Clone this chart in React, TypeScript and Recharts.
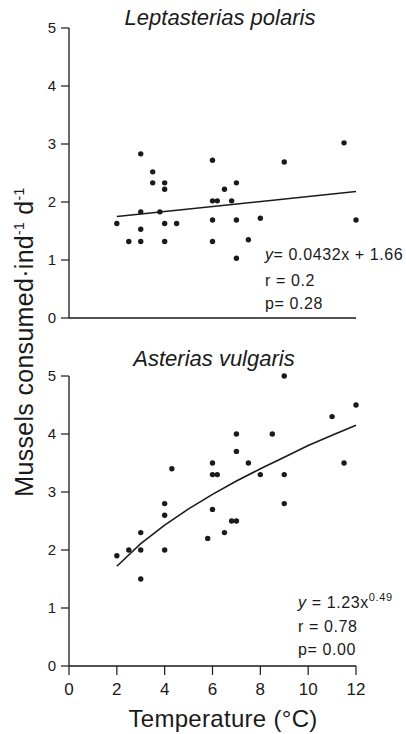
import React from 'react';
import { ScatterChart, Scatter, XAxis, YAxis } from 'recharts';

// Leptasterias polaris (top panel)
const polarisTemp = [2, 2.5, 3, 3, 3, 3, 3.5, 3.5, 3.8, 4, 4, 4, 4, 4.5, 6, 6, 6.2, 6, 6, 6.5, 6.8, 7, 7, 7, 7.5, 8, 9, 11.5, 12];
const polarisRate = [1.63, 1.32, 2.83, 1.83, 1.53, 1.32, 2.52, 2.33, 1.83, 2.33, 2.22, 1.63, 1.32, 1.63, 2.72, 2.02, 2.02, 1.69, 1.32, 2.22, 2.02, 2.33, 1.69, 1.03, 1.35, 1.72, 2.69, 3.02, 1.69];
const polarisFitTemp = [2, 12];
const polarisFitRate = [1.75, 2.18];

// Asterias vulgaris (bottom panel)
const vulgarisTemp = [2, 2.5, 3, 3, 3, 4, 4, 4, 4.3, 5.8, 6, 6, 6.2, 6, 6.5, 6.8, 7, 7, 7, 7.5, 8, 8.5, 9, 9, 9, 11, 11.5, 12];
const vulgarisRate = [1.9, 2.0, 2.0, 2.3, 1.5, 2.0, 2.6, 2.8, 3.4, 2.2, 2.7, 3.3, 3.3, 3.5, 2.3, 2.5, 2.5, 3.7, 4.0, 3.5, 3.3, 4.0, 3.3, 2.8, 5.0, 4.3, 3.5, 4.5];
const vulgarisFitTemp = [2, 3, 4, 5, 6, 7, 8, 9, 10, 11, 12];
const vulgarisFitRate = [1.72, 2.11, 2.43, 2.71, 2.96, 3.19, 3.40, 3.60, 3.80, 3.98, 4.15];

const xTicks = [0, 2, 4, 6, 8, 10, 12];
const yTicks = [0, 1, 2, 3, 4, 5];

const zip = (xs: number[], ys: number[]) => xs.map((x, i) => ({ x, y: ys[i] }));

const polarisPts = zip(polarisTemp, polarisRate);
const polarisFit = zip(polarisFitTemp, polarisFitRate);
const vulgarisPts = zip(vulgarisTemp, vulgarisRate);
const vulgarisFit = zip(vulgarisFitTemp, vulgarisFitRate);

const FONT = '"Liberation Sans", Arial, Helvetica, sans-serif';
const INK = '#1a1a1a';

const Dot = (props: any) => <circle cx={props.cx} cy={props.cy} r={2.7} fill={INK} />;
const NoDot = () => <g />;

const yTickStyle = { fill: INK, fontSize: 15, fontFamily: FONT };
const xTickStyle = { fill: INK, fontSize: 17, fontFamily: FONT };

function Panel({ pts, fit, showXLabels, height, bottom, xHeight }: any) {
  return (
    <ScatterChart width={406} height={height} margin={{ top: 28, right: 50, bottom, left: 39 }}>
      <XAxis
        type="number"
        dataKey="x"
        domain={[0, 12]}
        ticks={xTicks}
        interval={0}
        height={xHeight}
        tickSize={9}
        tickMargin={showXLabels ? 8 : 0}
        tick={showXLabels ? xTickStyle : false}
        axisLine={{ stroke: INK, strokeWidth: 1.3 }}
        tickLine={{ stroke: INK, strokeWidth: 1.2 }}
      />
      <YAxis
        type="number"
        dataKey="y"
        domain={[0, 5]}
        ticks={yTicks}
        interval={0}
        width={30}
        tickSize={8}
        tickMargin={5}
        tick={yTickStyle}
        axisLine={{ stroke: INK, strokeWidth: 1.3 }}
        tickLine={{ stroke: INK, strokeWidth: 1.2 }}
      />
      <Scatter data={pts} shape={Dot} isAnimationActive={false} />
      <Scatter data={fit} shape={NoDot} line={{ stroke: INK, strokeWidth: 1.6 }} isAnimationActive={false} />
    </ScatterChart>
  );
}

const abs = (left: number, top: number, extra: any = {}) => ({
  position: 'absolute' as const,
  left,
  top,
  whiteSpace: 'nowrap' as const,
  color: INK,
  fontFamily: FONT,
  lineHeight: 1,
  ...extra,
});

const supStyle = (fs: number, lift: number) => ({
  fontSize: fs,
  position: 'relative' as const,
  top: -lift,
  lineHeight: 1,
});

export default function App() {
  return (
    <div style={{ position: 'absolute', left: 0, top: 0, width: 406, height: 734, background: '#fff', fontFamily: FONT }}>
      <div style={{ position: 'absolute', left: 0, top: 0 }}>
        <Panel pts={polarisPts} fit={polarisFit} showXLabels={false} height={340} bottom={12} xHeight={10} />
      </div>
      <div style={{ position: 'absolute', left: 0, top: 348 }}>
        <Panel pts={vulgarisPts} fit={vulgarisFit} showXLabels={true} height={386} bottom={8} xHeight={60} />
      </div>

      {/* titles */}
      <div style={abs(220, 7, { fontSize: 22, fontStyle: 'italic', transform: 'translateX(-50%)' })}>Leptasterias polaris</div>
      <div style={abs(214, 348, { fontSize: 22, fontStyle: 'italic', transform: 'translateX(-50%)' })}>Asterias vulgaris</div>

      {/* y-axis label */}
      <div
        style={abs(24, 342, {
          fontSize: 25,
          letterSpacing: 0.3,
          transform: 'translate(-50%, -50%) rotate(-90deg)',
        })}
      >
        Mussels consumed·ind<span style={supStyle(14, 9)}>-1</span> d<span style={supStyle(14, 9)}>-1</span>
      </div>

      {/* x-axis label */}
      <div style={abs(223, 707, { fontSize: 24, letterSpacing: 0.3, transform: 'translateX(-50%)' })}>Temperature (°C)</div>

      {/* annotations top */}
      <div style={abs(265, 247, { fontSize: 16, letterSpacing: 0.6 })}><i>y</i>= 0.0432x + 1.66</div>
      <div style={abs(265, 273, { fontSize: 16, letterSpacing: 0.6 })}>r = 0.2</div>
      <div style={abs(265, 296, { fontSize: 16, letterSpacing: 0.6 })}>p= 0.28</div>

      {/* annotations bottom */}
      <div style={abs(298, 595, { fontSize: 16, letterSpacing: 0.6 })}>
        <i>y</i> = 1.23x<span style={supStyle(11, 7)}>0.49</span>
      </div>
      <div style={abs(298, 619, { fontSize: 16, letterSpacing: 0.6 })}>r = 0.78</div>
      <div style={abs(298, 642, { fontSize: 16, letterSpacing: 0.6 })}>p= 0.00</div>
    </div>
  );
}
